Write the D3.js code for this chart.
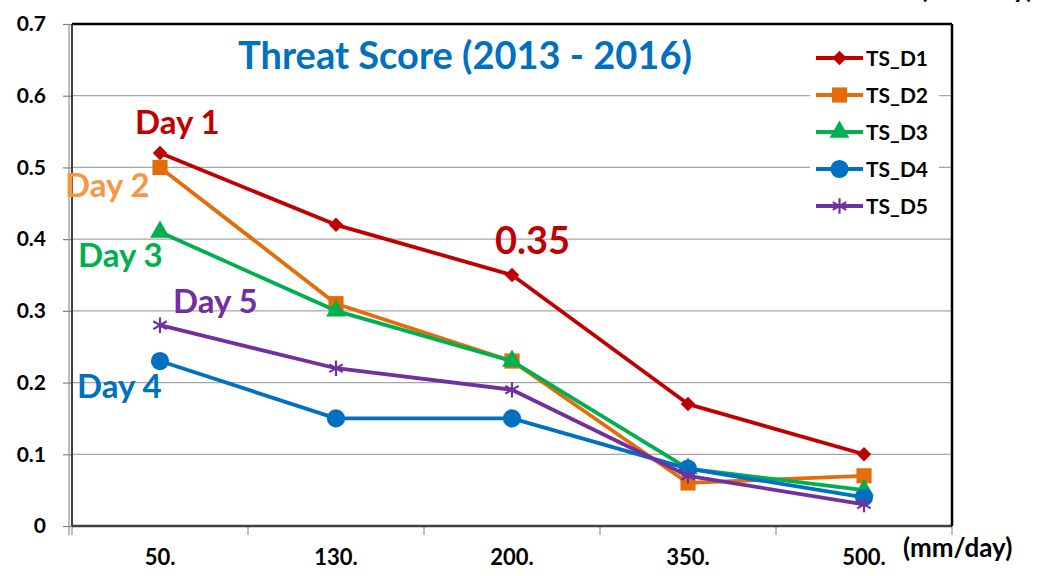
<!doctype html>
<html>
<head>
<meta charset="utf-8">
<script src="https://cdn.jsdelivr.net/npm/d3@7"></script>
<style>
body { margin: 0; background: #fff; }
text { font-family: Lato, "Open Sans", sans-serif; font-weight: bold; }
</style>
</head>
<body>
<div id="chart"></div>
<script>
// data
var categories = ["50.", "130.", "200.", "350.", "500."];
var ts_d1 = [0.52, 0.42, 0.35, 0.17, 0.10];
var ts_d2 = [0.50, 0.31, 0.23, 0.06, 0.07];
var ts_d3 = [0.41, 0.30, 0.23, 0.08, 0.05];
var ts_d4 = [0.23, 0.15, 0.15, 0.08, 0.04];
var ts_d5 = [0.28, 0.22, 0.19, 0.07, 0.03];
var yTicks = [0, 0.1, 0.2, 0.3, 0.4, 0.5, 0.6, 0.7];
var yTickLabels = ["0", "0.1", "0.2", "0.3", "0.4", "0.5", "0.6", "0.7"];

var series = [
  {name: "TS_D1", values: ts_d1, color: "#C00000", symbol: "diamond"},
  {name: "TS_D2", values: ts_d2, color: "#E46C0A", symbol: "square"},
  {name: "TS_D3", values: ts_d3, color: "#00B050", symbol: "triangle"},
  {name: "TS_D4", values: ts_d4, color: "#0070C0", symbol: "circle"},
  {name: "TS_D5", values: ts_d5, color: "#7030A0", symbol: "star"}
];

var W = 1037, H = 576;
var margin = {top: 24, right: 85, bottom: 50, left: 72},
    width = W - margin.left - margin.right,
    height = H - margin.top - margin.bottom;

var svg = d3.select("#chart").append("svg")
    .attr("width", W)
    .attr("height", H);
var g = svg.append("g")
    .attr("transform", "translate(" + margin.left + "," + margin.top + ")");

var x = d3.scaleBand().domain(categories).range([0, width]);
var y = d3.scaleLinear().domain([0, 0.7]).range([height, 0]);

// gridlines
g.selectAll(".grid")
  .data(yTicks.slice(1, -1))
  .enter().append("line")
    .attr("x1", 0).attr("x2", width)
    .attr("y1", function(d) { return y(d); })
    .attr("y2", function(d) { return y(d); })
    .attr("stroke", "#a6a6a6")
    .attr("stroke-width", 1.2);

// y axis
var yAxis = g.append("g")
    .call(d3.axisLeft(y).tickValues(yTicks)
      .tickFormat(function(d, i) { return yTickLabels[i]; })
      .tickSize(9).tickPadding(17));
yAxis.select(".domain").remove();
yAxis.selectAll("line").attr("stroke", "#808080").attr("stroke-width", 1.2);
yAxis.selectAll("text").style("font-size", "21px").attr("fill", "#000");
g.append("line").attr("x1", -3).attr("x2", -3).attr("y1", 0).attr("y2", height + 9)
  .attr("stroke", "#909090").attr("stroke-width", 1.2);
g.append("line").attr("x1", 0).attr("x2", 0).attr("y1", 0).attr("y2", height)
  .attr("stroke", "#404040").attr("stroke-width", 2);

// x axis: tick marks at band edges, labels at centres
var edges = categories.map(function(c) { return x(c); }).concat([width]);
g.selectAll(".xtick")
  .data(edges)
  .enter().append("line")
    .attr("x1", function(d) { return d; }).attr("x2", function(d) { return d; })
    .attr("y1", height).attr("y2", height + 9)
    .attr("stroke", "#909090").attr("stroke-width", 1.2);
var xAxis = g.append("g")
    .attr("transform", "translate(0," + height + ")")
    .call(d3.axisBottom(x).tickSize(0).tickPadding(23));
xAxis.select(".domain").remove();
xAxis.selectAll("text").style("font-size", "22px").attr("fill", "#000");

// frame
g.append("line").attr("x1", 0).attr("x2", width).attr("y1", height).attr("y2", height)
  .attr("stroke", "#404040").attr("stroke-width", 2.5);
g.append("line").attr("x1", 0).attr("x2", width).attr("y1", 0).attr("y2", 0)
  .attr("stroke", "#000").attr("stroke-width", 2.5);
g.append("line").attr("x1", width).attr("x2", width).attr("y1", 0).attr("y2", height)
  .attr("stroke", "#000").attr("stroke-width", 2.5);

// legend background
var legX = 810 - margin.left, legY = 40 - margin.top;
g.append("rect").attr("x", legX).attr("y", legY).attr("width", 129).attr("height", 182)
  .attr("fill", "#fff");

function symbolFor(name) {
  if (name === "diamond") return d3.symbol().type(d3.symbolSquare).size(105);
  if (name === "square") return d3.symbol().type(d3.symbolSquare).size(230);
  if (name === "triangle") return d3.symbol().type(d3.symbolTriangle).size(170);
  if (name === "circle") return d3.symbol().type(d3.symbolCircle).size(260);
  return d3.symbol().type(d3.symbolAsterisk).size(170);
}
function rot(name) { return name === "diamond" ? " rotate(45)" : ""; }

var line = d3.line()
    .x(function(d, i) { return x(categories[i]) + x.bandwidth() / 2; })
    .y(function(d) { return y(d); });

series.forEach(function(s) {
  g.append("path")
    .datum(s.values)
    .attr("fill", "none")
    .attr("stroke", s.color)
    .attr("stroke-width", 3.8)
    .attr("stroke-linejoin", "round")
    .attr("d", line);
  g.selectAll(null)
    .data(s.values)
    .enter().append("path")
      .attr("transform", function(d, i) {
        return "translate(" + (x(categories[i]) + x.bandwidth() / 2) + "," + y(d) + ")" + rot(s.symbol);
      })
      .attr("d", symbolFor(s.symbol))
      .attr("fill", s.symbol === "star" ? "none" : s.color)
      .attr("stroke", s.color)
      .attr("stroke-width", s.symbol === "star" ? 2.2 : 0);
});

// legend
series.forEach(function(s, i) {
  var ly = 58 + i * 37 - margin.top;
  var lx = 816 - margin.left;
  g.append("line").attr("x1", lx).attr("x2", lx + 47).attr("y1", ly).attr("y2", ly)
    .attr("stroke", s.color).attr("stroke-width", 3.8);
  g.append("path")
    .attr("transform", "translate(" + (lx + 23.5) + "," + ly + ")" + rot(s.symbol))
    .attr("d", symbolFor(s.symbol))
    .attr("fill", s.symbol === "star" ? "none" : s.color)
    .attr("stroke", s.color)
    .attr("stroke-width", s.symbol === "star" ? 2.2 : 0);
  g.append("text").attr("x", lx + 50).attr("y", ly + 7.5)
    .style("font-size", "21px").attr("fill", "#000").text(s.name);
});

// title
svg.append("text").attr("x", 465).attr("y", 69).attr("text-anchor", "middle")
  .style("font-size", "38px").attr("fill", "#0070C0").text("Threat Score (2013 - 2016)");

// annotations
var notes = [
  {t: "Day 1", x: 135, y: 134, c: "#C00000", s: 33},
  {t: "Day 2", x: 65, y: 197, c: "#F79646", s: 33},
  {t: "Day 3", x: 78, y: 267, c: "#00B050", s: 33},
  {t: "Day 5", x: 173, y: 313, c: "#7030A0", s: 33},
  {t: "Day 4", x: 77, y: 398, c: "#0070C0", s: 33},
  {t: "0.35", x: 495, y: 254, c: "#C00000", s: 38}
];
notes.forEach(function(n) {
  svg.append("text").attr("x", n.x).attr("y", n.y)
    .style("font-size", n.s + "px").attr("fill", n.c).text(n.t);
});

// unit labels
svg.append("text").attr("x", 903).attr("y", 557)
  .style("font-size", "26px").attr("fill", "#000").text("(mm/day)");
svg.append("text").attr("x", 920).attr("y", -2)
  .style("font-size", "27px").attr("fill", "#000").text("(mm/day)");
</script>
</body>
</html>
